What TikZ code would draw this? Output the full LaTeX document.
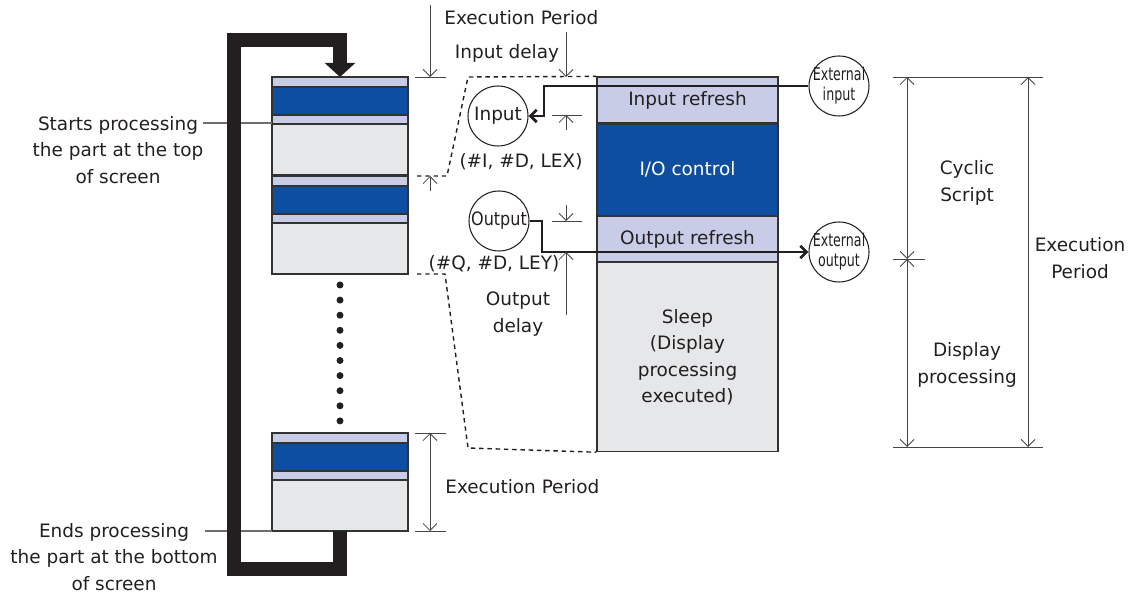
\documentclass[tikz,border=0pt]{standalone}
\usepackage{fontspec}
\setmainfont{DejaVu Sans}
\newfontfamily\narrowfont[FakeStretch=0.72]{DejaVu Sans}
\newfontfamily\semifont[FakeStretch=0.87]{DejaVu Sans}
\usetikzlibrary{arrows.meta, positioning, calc}
\definecolor{ioblue}{RGB}{14,78,160}
\definecolor{reflight}{RGB}{200,204,230}
\definecolor{sleepgray}{RGB}{230,231,232}
\definecolor{edgegray}{RGB}{50,50,50}
\definecolor{txtdark}{RGB}{35,31,32}
\definecolor{dimgray}{RGB}{70,70,70}
\definecolor{leadgray}{RGB}{110,110,110}
\tikzset{
  seg/.style={rectangle, draw=edgegray, line width=0.7pt, minimum width=3.62cm,
    inner sep=0pt, font=\fontsize{10.5}{15}\selectfont, text=txtdark, align=center},
  circ/.style={circle, draw=txtdark, line width=0.6pt, minimum size=1.2cm,
    inner sep=0pt, font=\fontsize{10.5}{12}\selectfont, text=txtdark},
  extcirc/.style={circle, draw=txtdark, line width=0.6pt, minimum size=1.2cm,
    inner sep=-3pt, align=center,
    font=\narrowfont\fontsize{10}{11.5}\selectfont, text=txtdark},
  lbl/.style={font=\fontsize{10.5}{15}\selectfont, text=txtdark, align=center, inner sep=0pt},
  dim/.style={line width=0.5pt, draw=dimgray},
  dimtip/.style={dim, -{Straight Barb[length=4pt,width=8pt]}},
  dimboth/.style={dim, {Straight Barb[length=4pt,width=8pt]}-{Straight Barb[length=4pt,width=8pt]}},
  sigline/.style={line width=1.6pt, draw=txtdark, -{Straight Barb[length=3.5pt,width=7pt]}},
  cutline/.style={line width=0.8pt, draw=txtdark, dash pattern=on 2.5pt off 2.2pt},
  loopbar/.style={line width=8.5pt, draw=txtdark, -{Triangle[length=8pt,width=17pt]}},
  leader/.style={line width=0.6pt, draw=leadgray}
}

\begin{document}
\begin{tikzpicture}[x=0.02cm, y=-0.02cm]
  \useasboundingbox (0,0) rectangle (1132,597);
  % Screen scan column (one cycle per block)
  \foreach \y in {77,176,433} {
    \filldraw[fill=reflight, draw=edgegray, line width=0.7pt] (272,\y) rectangle (408,\y+10);
    \filldraw[fill=ioblue, draw=edgegray, line width=0.7pt] (272,\y+10) rectangle (408,\y+38);
    \filldraw[fill=reflight, draw=edgegray, line width=0.7pt] (272,\y+38) rectangle (408,\y+47);
    \filldraw[fill=sleepgray, draw=edgegray, line width=0.7pt] (272,\y+47) rectangle (408,\y+98);
  }
  \foreach \k in {0,...,9}
    \fill[txtdark] (340,285+15.1*\k) circle (3.5);
  \coordinate (coltop) at (340,77);
  \coordinate (colbot) at (340,531);

  % Leaders and left captions
  \node[lbl] (starttxt) at (118,150) {Starts processing\\the part at the top\\of screen};
  \node[lbl] (endtxt) at (114,557) {Ends processing\\the part at the bottom\\of screen};
  \coordinate (startlead) at (203,123);
  \coordinate (endlead) at (205,531);
  \draw[leader] (startlead) -- (272,123);
  \draw[leader] (endlead) -- (272,531);

  % Loop back from bottom to top
  \draw[loopbar] (colbot) -- (340,569) -- (234,569) -- (234,40) -- (340,40) -- (coltop);

  % One cycle, enlarged
  \node[seg, fill=reflight, minimum height=0.92cm] (inref) at (687.5,100) {Input refresh};
  \node[seg, fill=ioblue, text=white, minimum height=1.82cm, below=0pt of inref] (ioc) {I/O control};
  \node[seg, fill=reflight, minimum height=0.9cm, below=0pt of ioc] (outref) {Output refresh};
  \node[seg, fill=sleepgray, minimum height=3.78cm, below=0pt of outref] (sleep) {Sleep\\(Display\\processing\\executed)};

  % Zoom-out dashed lines
  \draw[cutline] (417,176) -- (447,176) -- (468,77) -- (inref.north west);
  \draw[cutline] (417,274) -- (445,274) -- (468,448) -- (sleep.south west);

  % Devices
  \node[circ] (innode) at (498,116) {Input};
  \node[circ, font=\semifont\fontsize{10.5}{12}\selectfont] (outnode) at (499,221) {Output};
  \node[extcirc] (extin) at (839,86) {External\\input};
  \node[extcirc] (extout) at (839,252) {External\\output};
  \coordinate (inturn) at (544,86);
  \coordinate (outturn) at (542,252);
  \draw[sigline] (extin.west) -- (inturn) |- (innode.east);
  \draw[sigline] (outnode.east) -| (outturn) -- (extout.west);

  % Execution period (top)
  \draw[dim] (415,77) -- (446,77);
  \draw[dimtip] (430,5) -- (430,77);
  \draw[dimtip] (430,191) -- (430,176);
  % Input / output delay
  \draw[dim] (552,115) -- (582,115);
  \draw[dimtip] (566,32) -- (566,77);
  \draw[dimtip] (566,130) -- (566,115);
  \draw[dim] (552,221) -- (582,221);
  \draw[dimtip] (566,205) -- (566,221);
  \draw[dimtip] (566,315) -- (566,252);
  % Execution period (bottom)
  \draw[dim] (415,433) -- (446,433);
  \draw[dim] (415,531) -- (446,531);
  \draw[dimboth] (430,433) -- (430,531);
  % Right side
  \draw[dim] (893,77) -- (1043,77);
  \draw[dim] (893,447) -- (1043,447);
  \draw[dim] (893,259) -- (925,259);
  \draw[dimboth] (907,77) -- (907,259);
  \draw[dimboth] (907,259) -- (907,447);
  \draw[dimboth] (1028,77) -- (1028,447);

  % Labels
  \node[lbl, anchor=west] (eptop) at (444,18) {Execution Period};
  \node[lbl] (indelay) at (507,53) {Input delay};
  \node[lbl] (inaddr) at (521,162) {(\#I, \#D, LEX)};
  \node[lbl] (outaddr) at (494,264) {(\#Q, \#D, LEY)};
  \node[lbl] (outdelay) at (518,314) {Output\\delay};
  \node[lbl, anchor=west] (epbot) at (445,487) {Execution Period};
  \node[lbl] (cyclic) at (967,183) {Cyclic\\Script};
  \node[lbl] (disp) at (967,365) {Display\\processing};
  \node[lbl] (epright) at (1080,258) {Execution\\Period};
\end{tikzpicture}
\end{document}
